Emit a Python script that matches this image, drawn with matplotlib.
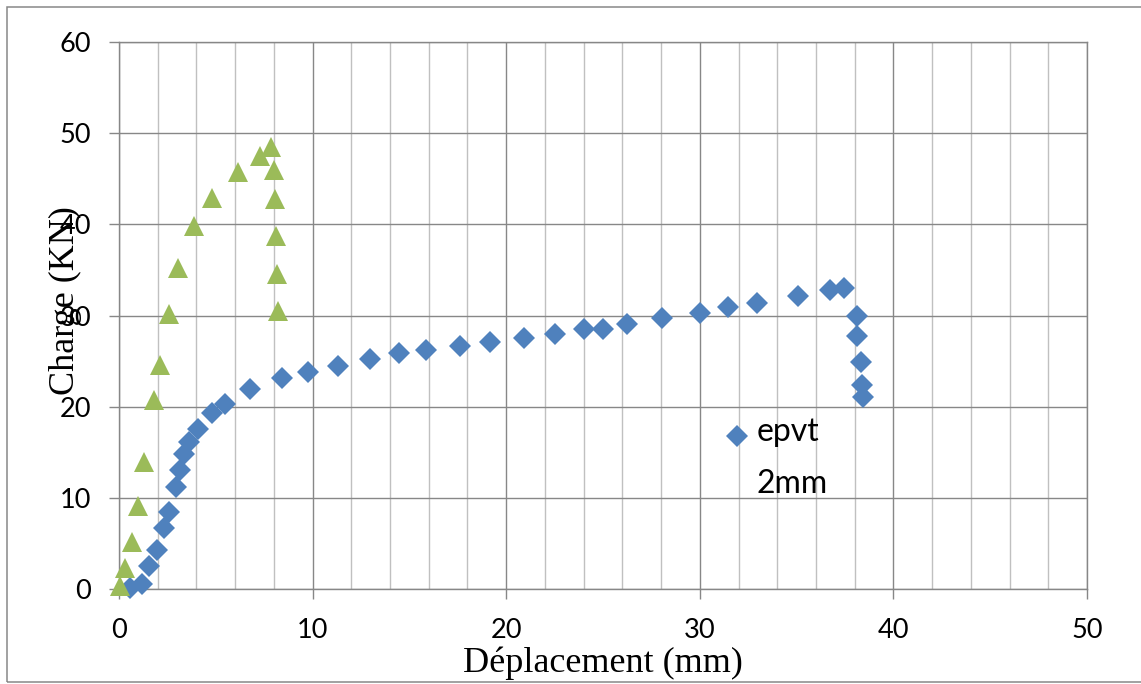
import matplotlib
matplotlib.use("Agg")
import matplotlib.pyplot as plt
import matplotlib.transforms as mtransforms
from matplotlib.legend_handler import HandlerLine2D
from matplotlib.lines import Line2D
from matplotlib.patches import Rectangle
from matplotlib.ticker import MultipleLocator

# Load-displacement readings, 2 mm specimen (epvt)
epvt_disp = [0.57, 1.17, 1.55, 1.95, 2.33, 2.59, 2.95, 3.15, 3.38, 3.60, 4.07,
             4.79, 5.50, 6.75, 8.42, 9.76, 11.30, 12.94, 14.45, 15.87, 17.63,
             19.18, 20.93, 22.53, 24.03, 25.00, 26.24, 28.03, 30.00, 31.45,
             32.98, 35.05, 36.73, 37.47, 38.14, 38.14, 38.32, 38.40, 38.45]
epvt_load = [0.1, 0.6, 2.5, 4.3, 6.7, 8.5, 11.2, 13.05, 14.8, 16.1, 17.6,
             19.3, 20.3, 21.9, 23.1, 23.8, 24.5, 25.2, 25.85, 26.25, 26.65,
             27.1, 27.55, 28.0, 28.55, 28.55, 29.05, 29.75, 30.3, 30.9,
             31.4, 32.1, 32.8, 33.0, 30.0, 27.7, 24.85, 22.4, 21.1]

# Second specimen
ref_disp = [0.05, 0.30, 0.68, 1.00, 1.30, 1.80, 2.10, 2.57, 3.06, 3.86, 4.78,
            6.16, 7.26, 7.86, 8.00, 8.08, 8.10, 8.15, 8.20]
ref_load = [0.3, 2.3, 5.2, 9.1, 13.95, 20.7, 24.6, 30.2, 35.2, 39.8, 42.9,
            45.7, 47.5, 48.5, 46.0, 42.8, 38.7, 34.5, 30.5]

x_ticks = [0, 10, 20, 30, 40, 50]
y_ticks = [0, 10, 20, 30, 40, 50, 60]
legend_label = "epvt\n2mm"

BLUE = "#4F81BD"
GREEN = "#9BBB59"
MAJOR = "#878787"
MINOR = "#C0C0C0"
TICK_FONT = "Lato"
SERIF = "Liberation Serif"

W, H = 1141, 684
fig = plt.figure(figsize=(W / 100, H / 100), dpi=100)
fig.patch.set_facecolor("white")

# outer chart-area border
fig.patches.append(Rectangle((7 / W, 2 / H), 1.2, 1 - 9 / H,
                             transform=fig.transFigure, fill=False,
                             edgecolor=MAJOR, linewidth=1.1))

ax = fig.add_axes([119 / W, 1 - 589 / H, 968 / W, 547 / H])
ax.set_xlim(0, 50)
ax.set_ylim(0, 60)

ax.xaxis.set_minor_locator(MultipleLocator(2))
ax.set_xticks(x_ticks)
ax.set_yticks(y_ticks)
ax.set_xticklabels([str(v) for v in x_ticks], fontfamily=TICK_FONT, fontsize=19.5)
ax.set_yticklabels([str(v) for v in y_ticks], fontfamily=TICK_FONT, fontsize=19.5)

ax.grid(which="minor", axis="x", color=MINOR, linewidth=1.0, zorder=0)
ax.grid(which="major", axis="both", color=MAJOR, linewidth=1.0, zorder=0)
ax.set_axisbelow(True)
for sp in ax.spines.values():
    sp.set_color(MAJOR)
    sp.set_linewidth(1.0)

ax.tick_params(which="major", direction="out", length=7.2, width=1.0,
               color=MAJOR, labelcolor="black")
ax.tick_params(axis="x", which="major", pad=14)
ax.tick_params(axis="y", which="major", pad=13)
ax.tick_params(which="minor", length=0)

ax.plot(epvt_disp, epvt_load, linestyle="none", marker="D", markersize=11,
        color=BLUE, markeredgewidth=0, clip_on=False, zorder=3)
ax.plot(ref_disp, ref_load, linestyle="none", marker="^", markersize=14,
        color=GREEN, markeredgewidth=0, clip_on=False, zorder=4)

ax.set_xlabel("Déplacement (mm)", fontfamily=SERIF, fontsize=26)
ax.xaxis.set_label_coords(0.5, -0.105)
ax.set_ylabel("Charge (KN)", fontfamily=SERIF, fontsize=26)
ax.yaxis.set_label_coords(-0.038, 0.528)


class FirstLineHandler(HandlerLine2D):
    """Places the legend marker beside the first line of a two-line label."""

    def __init__(self, lift, **kw):
        super().__init__(**kw)
        self.lift = lift

    def create_artists(self, legend, orig_handle, xdescent, ydescent,
                       width, height, fontsize, trans):
        arts = super().create_artists(legend, orig_handle, xdescent, ydescent,
                                      width, height, fontsize, trans)
        shift = mtransforms.Affine2D().translate(0, self.lift * fontsize)
        for a in arts:
            a.set_transform(shift + a.get_transform())
        return arts


handle = Line2D([], [], linestyle="none", marker="D", markersize=11,
                color=BLUE, markeredgewidth=0)
leg = ax.legend([handle], [legend_label], loc="upper left",
                bbox_to_anchor=(0.622, 0.314), frameon=False,
                borderpad=0, borderaxespad=0, handlelength=1.0,
                handletextpad=0.12,
                handler_map={handle: FirstLineHandler(lift=0.73, numpoints=1)},
                prop={"family": TICK_FONT, "size": 23})
for t in leg.get_texts():
    t.set_linespacing(1.9)

fig.savefig("out.png", dpi=100)
